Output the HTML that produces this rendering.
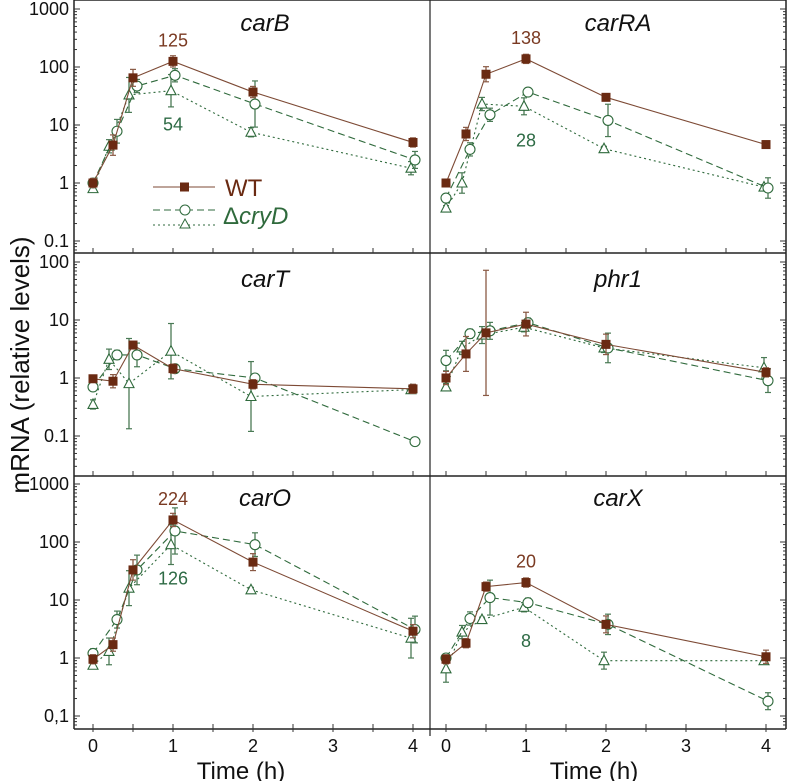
<!DOCTYPE html>
<html><head><meta charset="utf-8"><style>
html,body{margin:0;padding:0;background:#fff;}
svg{display:block;font-family:"Liberation Sans",sans-serif;}
</style></head><body>
<svg id="chart" width="787" height="781" viewBox="0 0 787 781"></svg>
<script>
// ---- data ----
const times = [0, 0.25, 0.5, 1, 2, 4];
const panelNames = ["carB","carRA","carT","phr1","carO","carX"];
const wtB = [1.0, 4.5, 65, 125, 37, 5];
const ciB = [1.0, 7.8, 47, 72, 23, 2.5];
const trB = [0.8, 4.3, 33, 39, 7.5, 1.8];
const wtRA = [1.0, 7, 75, 138, 30, 4.6];
const ciRA = [0.55, 3.8, 15, 37, 12, 0.82];
const trRA = [0.37, 1.0, 23, 21, 3.9, 0.85];
const wtT = [0.97, 0.88, 3.7, 1.45, 0.78, 0.65];
const ciT = [0.7, 2.5, 2.5, 1.45, 1.0, 0.08];
const trT = [0.35, 2.1, 0.8, 2.9, 0.48, 0.63];
const wtP = [1.0, 2.6, 6, 8.5, 3.8, 1.25];
const ciP = [2.0, 5.8, 6.5, 9, 3.3, 0.9];
const trP = [0.7, 3.3, 5.5, 7.5, 3.3, 1.5];
const wtO = [0.95, 1.7, 33, 240, 45, 2.9];
const ciO = [1.2, 4.6, 33, 155, 90, 3.1];
const trO = [0.75, 1.3, 16, 90, 15, 2.2];
const wtX = [0.95, 1.8, 17, 20, 3.8, 1.05];
const ciX = [1.0, 4.8, 11, 9, 3.8, 0.18];
const trX = [0.65, 2.8, 4.6, 7.5, 0.9, 0.9];
// error factors (multiplicative, log-symmetric)
const errB = [[1.2,1.5,1.4,1.25,1.25,1.2],[1.15,1.6,1.3,1.3,2.5,1.4],[1.15,1.3,2.0,1.9,1.2,1.3]];
const errRA = [[1.05,1.3,1.35,1.2,1.15,1.15],[1.1,1.3,1.3,1.1,1.9,1.5],[1.1,1.5,1.3,1.4,1.1,1.1]];
const errT = [[1.1,1.3,1.15,1.2,1.2,1.2],[1.1,1.2,1.6,1.1,1.1,1.15],[1.2,1.5,6,3,4,1.15]];
const errP = [[1.3,2.0,12,1.6,1.5,1.2],[1.5,1.2,1.4,1.2,1.8,1.6],[1.15,1.3,1.4,1.2,1.2,1.5]];
const errO = [[1.2,1.3,1.5,1.3,1.4,1.3],[1.2,1.4,1.8,2.5,1.6,1.7],[1.15,1.7,2,2.2,1.1,2.2]];
const errX = [[1.2,1.2,1.2,1.2,1.4,1.3],[1.15,1.3,2.0,1.2,1.5,1.4],[1.7,1.3,1.1,1.2,1.4,1.15]];
const wtSeries = [wtB, wtRA, wtT, wtP, wtO, wtX];
const ciSeries = [ciB, ciRA, ciT, ciP, ciO, ciX];
const trSeries = [trB, trRA, trT, trP, trO, trX];
const errSeries = [errB, errRA, errT, errP, errO, errX];
const peakWT = ["125","138","","","224","20"];
const peakCry = ["54","28","","","126","8"];

const NS = "http://www.w3.org/2000/svg";
const svg = document.getElementById("chart");
function el(tag, attrs, parent, text){
  const e = document.createElementNS(NS, tag);
  for (const k in attrs) e.setAttribute(k, attrs[k]);
  if (text !== undefined) e.textContent = text;
  (parent || svg).appendChild(e);
  return e;
}
const BROWN = "#6a2a12", BROWNL = "#7d4a35", GREEN = "#2f6a3c", TXTB = "#7a3a22", TXTG = "#2e6b45";
const rows = [
  {top:0, bot:253, y1:183, ticks:[["1000",3],["100",2],["10",1],["1",0],["0.1",-1]]},
  {top:253, bot:476, y1:378, ticks:[["100",2],["10",1],["1",0],["0.1",-1]]},
  {top:476, bot:729, y1:658, ticks:[["1000",3],["100",2],["10",1],["1",0],["0,1",-1]]}
];
const DEC = 58;
const cols = [{left:74, right:430, x0:93}, {left:430, right:786, x0:446}];
const PXH = 80;

el("line",{x1:74,y1:0,x2:786,y2:0,stroke:"#222","stroke-width":1.5});
el("line",{x1:74,y1:0,x2:74,y2:729,stroke:"#222","stroke-width":1.5});
el("line",{x1:786,y1:0,x2:786,y2:729,stroke:"#222","stroke-width":1.5});
el("line",{x1:430,y1:0,x2:430,y2:736,stroke:"#222","stroke-width":1.2});

rows.forEach((r,ri)=>{
  el("line",{x1:74,y1:r.bot,x2:786,y2:r.bot,stroke:"#222","stroke-width":1.5});
  const yOf = v => r.y1 - Math.log10(v)*DEC;
  const g = el("g",{});
  for (let d=-2; d<=3; d++){
    for (let m=1; m<=9; m++){
      const y = yOf(m*Math.pow(10,d));
      if (y < r.top+2 || y > r.bot-1) continue;
      const len = m===1 ? 6 : 3;
      el("line",{x1:74,y1:y,x2:74+len,y2:y,stroke:"#333","stroke-width":1},g);
      el("line",{x1:786,y1:y,x2:786-len,y2:y,stroke:"#333","stroke-width":1},g);
    }
  }
  r.ticks.forEach(([lab,d])=>{
    el("text",{x:69,y:yOf(Math.pow(10,d))+6,"text-anchor":"end","font-size":18,fill:"#111"},g,lab);
  });
  cols.forEach(c=>{
    for (let t=0; t<=4; t+=0.5){
      const x = c.x0 + t*PXH;
      el("line",{x1:x,y1:r.bot,x2:x,y2:r.bot-5,stroke:"#333","stroke-width":1},g);
      if (ri===2) el("line",{x1:x,y1:r.bot,x2:x,y2:r.bot+3,stroke:"#333","stroke-width":1},g);
    }
  });
});
cols.forEach((c,ci)=>{
  const g = el("g",{});
  for (let t=0; t<=4; t++){
    el("text",{x:c.x0+t*PXH,y:752,"text-anchor":"middle","font-size":18,fill:"#111"},g,String(t));
  }
  el("text",{x:c.x0+2*PXH-12,y:779,"text-anchor":"middle","font-size":24,fill:"#111",},g,"Time (h)");
});
el("text",{x:0,y:0,transform:"translate(29,365) rotate(-90)","text-anchor":"middle","font-size":26,fill:"#111",},null,"mRNA (relative levels)");

const titleY = [31, 287, 506];
const dx = {wt:0, ci:4, tr:-4};
panelNames.forEach((name,pi)=>{
  const r = rows[Math.floor(pi/2)], c = cols[pi%2];
  const yOf = v => r.y1 - Math.log10(v)*DEC;
  const xOf = t => c.x0 + t*PXH;
  const g = el("g",{});
  el("text",{x:c.x0+172,y:titleY[Math.floor(pi/2)],"text-anchor":"middle","font-size":24,"font-style":"italic",fill:"#111",},g,name);
  const defs = [
    {key:"tr", data:trSeries[pi], err:errSeries[pi][2], col:GREEN, dash:"2,3"},
    {key:"ci", data:ciSeries[pi], err:errSeries[pi][1], col:GREEN, dash:"7,4"},
    {key:"wt", data:wtSeries[pi], err:errSeries[pi][0], col:BROWNL, dash:""}
  ];
  defs.forEach(s=>{
    const sg = el("g",{},g);
    const pts = s.data.map((v,i)=>[xOf(times[i])+(i===0?0:dx[s.key]*(i<3?1:0.5)), yOf(v)]);
    el("polyline",{points:pts.map(p=>p.join(",")).join(" "),fill:"none",stroke:s.col,"stroke-width":1.1,"stroke-dasharray":s.dash},sg);
    s.data.forEach((v,i)=>{
      const [x,y] = pts[i];
      const yu = yOf(v*s.err[i]), yl = yOf(v/s.err[i]);
      const ec = s.key==="wt"?"#8a5a45":"#4a7a55";
      el("line",{x1:x,y1:yu,x2:x,y2:yl,stroke:ec,"stroke-width":1.3},sg);
      el("line",{x1:x-3,y1:yu,x2:x+3,y2:yu,stroke:ec,"stroke-width":1.2},sg);
      el("line",{x1:x-3,y1:yl,x2:x+3,y2:yl,stroke:ec,"stroke-width":1.2},sg);
      let m;
      if (s.key==="wt") m = el("rect",{x:x-4.5,y:y-4.5,width:9,height:9,fill:BROWN},sg);
      else if (s.key==="ci") m = el("circle",{cx:x,cy:y,r:5,fill:"#fff",stroke:GREEN,"stroke-width":1.1},sg);
      else m = el("polygon",{points:`${x},${y-5.5} ${x-5},${y+4} ${x+5},${y+4}`,fill:"#fff",stroke:GREEN,"stroke-width":1.1},sg);
      
      
    });
  });
  if (peakWT[pi]){
    const wy = yOf(wtSeries[pi][3]) - 15;
    el("text",{x:xOf(1),y:wy,"text-anchor":"middle","font-size":18,fill:TXTB,},g,peakWT[pi]);
    const cy = yOf(Math.min(ciSeries[pi][3],trSeries[pi][3])) + 40;
    el("text",{x:xOf(1),y:cy,"text-anchor":"middle","font-size":18,fill:TXTG,},g,peakCry[pi]);
  }
});
const lg = el("g",{});
el("line",{x1:153,y1:187,x2:215,y2:187,stroke:BROWNL,"stroke-width":1.1},lg);
el("rect",{x:180,y:182.5,width:9,height:9,fill:BROWN},lg);
el("text",{x:225,y:196,"font-size":24,fill:"#6a2a12"},lg,"WT");
el("line",{x1:153,y1:210,x2:215,y2:210,stroke:GREEN,"stroke-width":1.1,"stroke-dasharray":"7,4"},lg);
el("circle",{cx:185,cy:210,r:5,fill:"#fff",stroke:GREEN},lg);
el("line",{x1:153,y1:225,x2:215,y2:225,stroke:GREEN,"stroke-width":1.1,"stroke-dasharray":"2,3"},lg);
el("polygon",{points:"185,219 180,228 190,228",fill:"#fff",stroke:GREEN},lg);
const lt = el("text",{x:223,y:224,"font-size":24,fill:GREEN},lg,"Δ");
el("tspan",{"font-style":"italic"},lt,"cryD");
</script>
</body></html>
